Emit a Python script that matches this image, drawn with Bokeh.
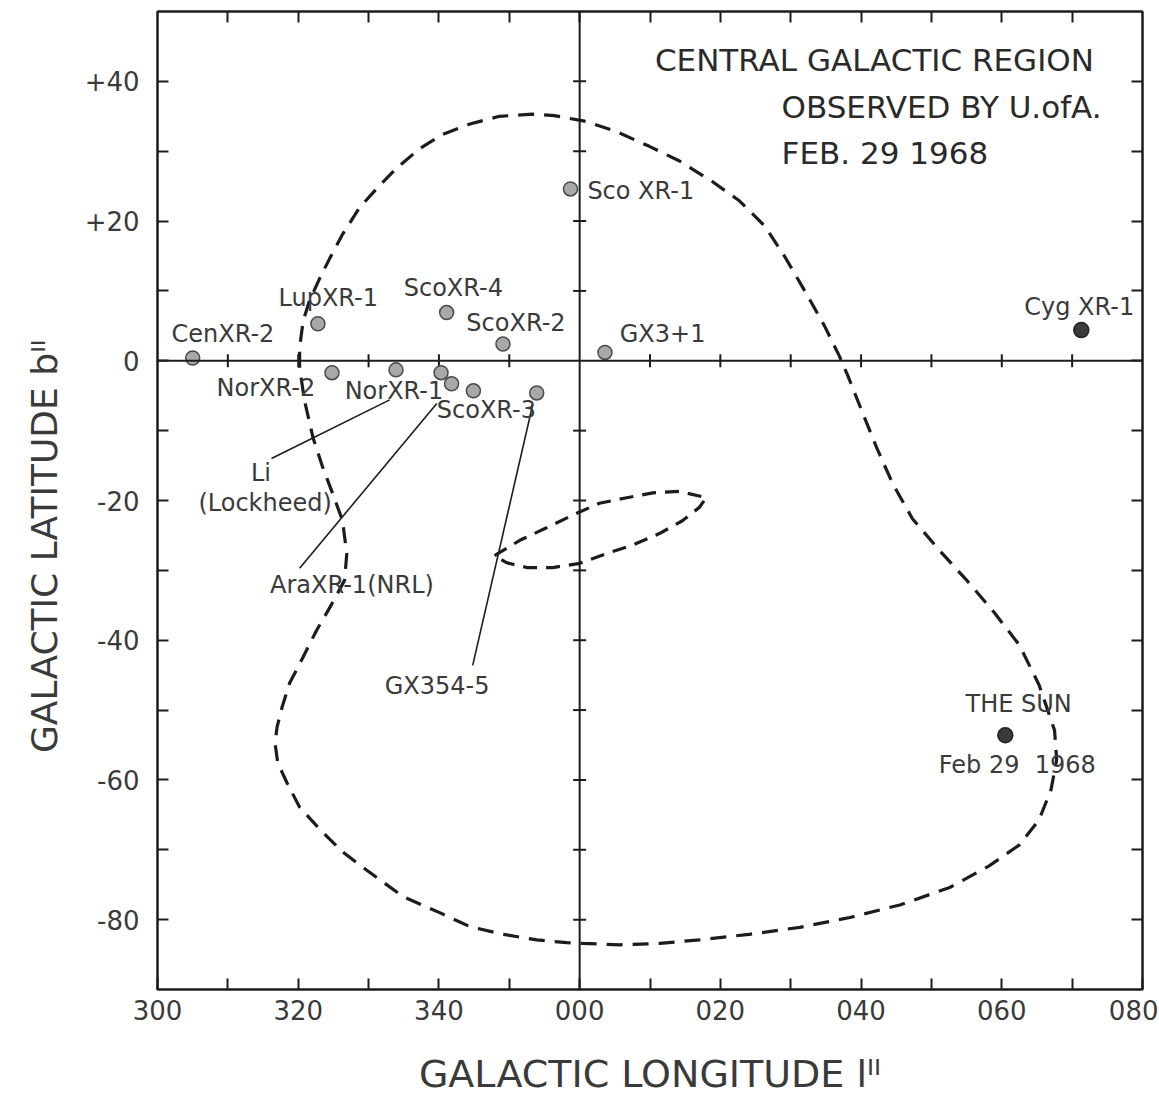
import math
from bokeh.plotting import figure
from bokeh.models import FixedTicker, LinearAxis, Span, Range1d
from bokeh.core.properties import value
from bokeh.embed import file_html
from bokeh.resources import INLINE

# ---------------- data ----------------
# galactic longitude ticks (signed degrees: 300 -> -60) and labels
lon_ticks = [-60, -40, -20, 0, 20, 40, 60, 80]
lon_tick_labels = ["300", "320", "340", "000", "020", "040", "060", "080"]
lon_minor = [-50, -30, -10, 10, 30, 50, 70]
lat_ticks = [-80, -60, -40, -20, 0, 20, 40]
lat_tick_labels = ["-80", "-60", "-40", "-20", "0", "+20", "+40"]
lat_minor = [-70, -50, -30, -10, 10, 30]

# X-ray sources (galactic longitude 0-360, latitude)
src_name = ["CenXR-2", "LupXR-1", "ScoXR-4", "ScoXR-2", "Sco XR-1", "GX3+1",
            "NorXR-2", "NorXR-1", "AraXR-1", "Ara-2", "ScoXR-3", "GX354-5"]
src_lon = [305.0, 322.8, 341.1, 349.1, 358.7, 3.6,
           324.8, 333.9, 340.3, 341.8, 344.9, 353.9]
src_lat = [0.4, 5.3, 6.9, 2.4, 24.6, 1.2,
           -1.7, -1.3, -1.7, -3.3, -4.3, -4.6]
dark_name = ["Cyg XR-1", "THE SUN"]
dark_lon = [71.3, 60.5]
dark_lat = [4.4, -53.6]

# outer scan boundary (signed longitude, latitude)
outer_lon = [-39.8, -39.8, -39.3, -38.4, -36.9, -35.5, -33.7, -31.3, -28.8, -26.0,
             -22.7, -19.5, -15.6, -11.4, -6.7, -3.6, 0.7, 5.0, 9.9, 14.2,
             18.8, 22.7, 26.3, 29.1, 32.0, 34.8, 36.9, 38.1, 39.8, 42.2,
             44.5, 47.3, 51.1, 55.0, 58.9, 62.5, 65.3, 67.5, 67.8, 67.0,
             65.3, 62.5, 58.2, 52.6, 45.5, 38.4, 31.3, 24.1, 17.0, 11.4,
             5.7, 0.4, -1.8, -6.1, -10.9, -15.6, -19.9, -25.1, -30.3, -33.7,
             -36.9, -39.8, -41.6, -42.9, -43.3, -43.0, -42.3, -41.2, -39.3, -37.4,
             -35.5, -33.4, -33.1, -33.7, -35.1, -36.5, -37.9, -39.1, -39.8]
outer_lat = [-1.0, 1.9, 5.7, 8.6, 11.9, 14.7, 18.1, 21.9, 24.7, 27.6,
             30.4, 32.4, 33.9, 35.0, 35.3, 35.1, 34.3, 32.9, 30.7, 28.6,
             25.7, 22.9, 19.3, 15.0, 10.0, 5.0, 0.7, -2.1, -6.4, -12.4,
             -17.6, -22.6, -27.1, -31.4, -36.0, -40.7, -46.4, -52.9, -57.1, -61.4,
             -65.7, -69.3, -72.3, -75.4, -77.9, -79.7, -81.1, -82.1, -82.9, -83.4,
             -83.6, -83.4, -83.3, -82.9, -82.1, -81.0, -79.0, -76.7, -72.9, -70.3,
             -67.1, -63.9, -60.4, -57.6, -54.7, -52.4, -49.6, -46.1, -42.4, -38.6,
             -35.3, -31.4, -27.6, -22.9, -19.0, -15.3, -11.0, -5.7, -1.0]

# inner loop
loop_lon = [-12.1, -8.5, -4.7, -1.0, 2.8, 6.7, 10.4, 14.2, 18.0, 17.0,
            14.6, 11.4, 7.5, 3.8, 0.0, -3.8, -7.5, -10.4, -12.1]
loop_lat = [-27.9, -25.7, -23.9, -22.1, -20.4, -19.6, -18.9, -18.7, -19.6, -21.0,
            -22.9, -24.7, -26.4, -27.6, -29.0, -29.6, -29.6, -28.9, -27.9]

# leader lines (signed longitude, latitude)
lead_x0 = [-43.8, -39.8, -15.2]
lead_y0 = [-14.0, -29.7, -43.6]
lead_x1 = [-27.0, -20.3, -6.7]
lead_y1 = [-5.6, -6.1, -6.4]

# source labels (left-aligned) and their anchor positions
lab_text = ["CenXR-2", "LupXR-1", "ScoXR-4", "ScoXR-2", "Sco XR-1", "GX3+1",
            "Cyg XR-1", "NorXR-2", "NorXR-1", "ScoXR-3", "AraXR-1(NRL)", "GX354-5"]
lab_x = [-58.0, -42.8, -25.0, -16.1, 1.1, 5.7, 63.2, -51.6, -33.4, -20.3, -44.0, -27.7]
lab_y = [3.9, 9.0, 10.4, 5.4, 24.3, 3.9, 7.7, -3.9, -4.3, -7.1, -32.1, -46.6]
# centred labels
clab_text = ["Li", "(Lockheed)", "THE SUN", "Feb 29\u00a0\u00a01968"]
clab_x = [-45.3, -44.7, 62.4, 62.2]
clab_y = [-16.0, -20.4, -49.1, -57.9]
# title block
title_text = ["CENTRAL GALACTIC REGION", "OBSERVED BY U.ofA.", "FEB. 29 1968"]
title_x = [10.7, 28.7, 28.7]
title_y = [43.1, 36.4, 29.7]


def signed(l):
    return l - 360 if l > 180 else l


FONT = "DejaVu Sans"
INK = "#1c1c1c"
TXT = "#3a3a3a"

p = figure(width=1158, height=1098, x_range=Range1d(-60, 80), y_range=Range1d(-90, 50),
           output_backend="svg", toolbar_location=None,
           min_border_left=157, min_border_right=16, min_border_top=11, min_border_bottom=107,
           background_fill_color="white", border_fill_color="white")
p.grid.visible = False
p.outline_line_color = INK
p.outline_line_width = 2


def style_axis(ax):
    ax.major_tick_in = 11
    ax.major_tick_out = 0
    ax.minor_tick_in = 11
    ax.minor_tick_out = 0
    ax.major_tick_line_width = 2
    ax.minor_tick_line_width = 2
    ax.major_tick_line_color = INK
    ax.minor_tick_line_color = INK
    ax.axis_line_color = INK
    ax.axis_line_width = 2
    ax.major_label_text_font = FONT
    ax.major_label_text_font_size = "26px"
    ax.major_label_text_color = TXT
    ax.axis_label_text_font = FONT
    ax.axis_label_text_font_size = "36px"
    ax.axis_label_text_font_style = "normal"
    ax.axis_label_text_color = TXT


p.xaxis.ticker = FixedTicker(ticks=lon_ticks, minor_ticks=lon_minor)
p.yaxis.ticker = FixedTicker(ticks=lat_ticks, minor_ticks=lat_minor)
p.xaxis.major_label_overrides = dict(zip(lon_ticks, lon_tick_labels))
p.yaxis.major_label_overrides = dict(zip(lat_ticks, lat_tick_labels))
for ax in p.xaxis + p.yaxis:
    style_axis(ax)
p.xaxis.major_label_standoff = 10
p.yaxis.major_label_standoff = 18
p.xaxis.axis_label = "GALACTIC LONGITUDE l\u1d35\u1d35"
p.xaxis.axis_label_text_font_size = "38px"
p.xaxis.axis_label_standoff = 29
p.yaxis.axis_label = "GALACTIC LATITUDE b\u1d35\u1d35" + "\u00a0" * 8
p.yaxis.axis_label_standoff = 17

# tick-only axes on top and right (all ticks drawn as minor ticks, no labels)
top = LinearAxis(ticker=FixedTicker(ticks=[], minor_ticks=lon_ticks[1:-1] + lon_minor))
style_axis(top)
p.add_layout(top, "above")
right = LinearAxis(ticker=FixedTicker(ticks=[], minor_ticks=lat_ticks + lat_minor))
style_axis(right)
p.add_layout(right, "right")

# central cross with ticks
p.add_layout(Span(location=0, dimension="width", line_color=INK, line_width=2))
p.add_layout(Span(location=0, dimension="height", line_color=INK, line_width=2))
cross_lon = [t for t in lon_ticks + lon_minor if t not in (0, -60, 80)]
cross_lat = [t for t in lat_ticks + lat_minor if t != 0]
p.scatter(x=cross_lon, y=[0] * len(cross_lon), marker="dash", size=13, angle=math.pi / 2,
          line_color=INK, line_width=2)
p.scatter(x=[0] * len(cross_lat), y=cross_lat, marker="dash", size=13,
          line_color=INK, line_width=2)

# dashed boundaries
p.line(outer_lon, outer_lat, line_dash="16 10", line_width=3.2, line_color=INK)
p.line(loop_lon, loop_lat, line_dash="14 9", line_width=3.2, line_color=INK)

# leader lines
p.segment(x0=lead_x0, y0=lead_y0, x1=lead_x1, y1=lead_y1, line_color=INK, line_width=1.6)

# sources
p.scatter(x=[signed(l) for l in src_lon], y=src_lat, size=14, marker="circle",
          fill_color="#a8a8a8", line_color="#4a4a4a", line_width=1.5)
p.scatter(x=[signed(l) for l in dark_lon], y=dark_lat, size=15, marker="circle",
          fill_color="#3a3a3a", line_color="#222222", line_width=1.5)

# labels
p.text(x=lab_x, y=lab_y, text=lab_text, text_font=value(FONT), text_font_size="24px",
       text_color=TXT, text_align="left", text_baseline="middle")
p.text(x=clab_x, y=clab_y, text=clab_text, text_font=value(FONT), text_font_size="24px",
       text_color=TXT, text_align="center", text_baseline="middle")
p.text(x=title_x, y=title_y, text=title_text, text_font=value(FONT), text_font_size="31px",
       text_color="#2a2a2a", text_align="left", text_baseline="middle")

open("out.html", "w").write(file_html(p, INLINE))
